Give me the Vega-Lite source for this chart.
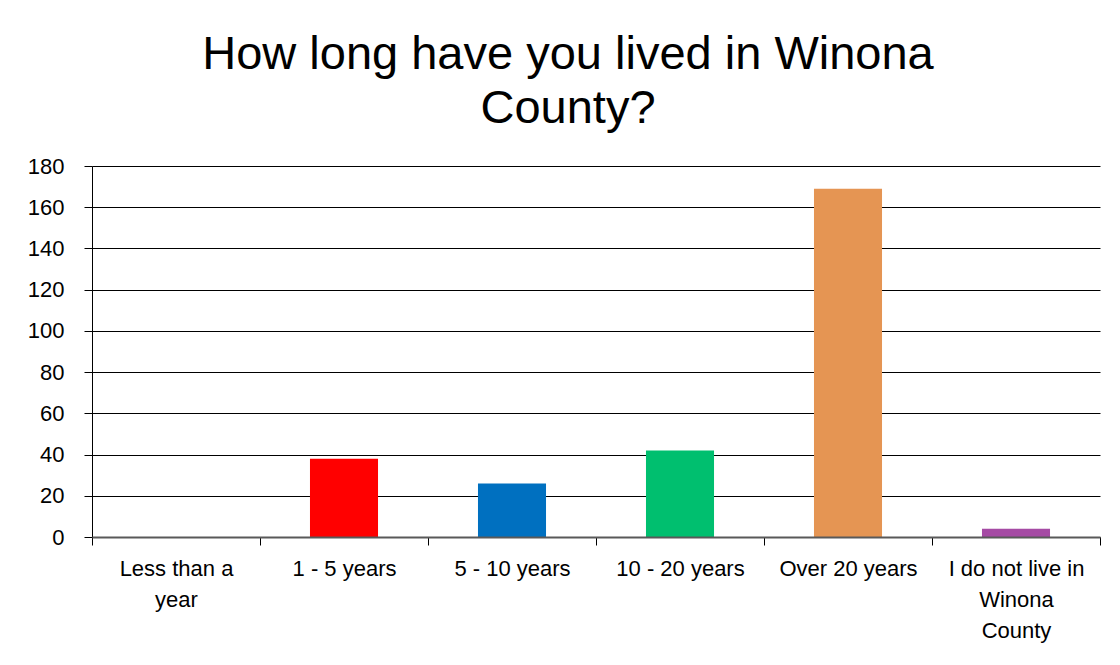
{
  "$schema": "https://vega.github.io/schema/vega-lite/v6.json",
  "autosize": {"type": "none"},
  "width": 1008,
  "height": 371,
  "padding": {"top": 166, "left": 92, "right": 20, "bottom": 128},
  "background": "white",
  "title": {
    "text": ["How long have you lived in Winona", "County?"],
    "font": "Liberation Sans",
    "fontSize": 47,
    "fontWeight": "normal",
    "color": "#000000",
    "lineHeight": 54,
    "anchor": "middle",
    "dx": -28,
    "offset": 22
  },
  "data": {
    "values": [
      {"category": "Less than a year", "count": 0},
      {"category": "1 - 5 years", "count": 38},
      {"category": "5 - 10 years", "count": 26},
      {"category": "10 - 20 years", "count": 42},
      {"category": "Over 20 years", "count": 169},
      {"category": "I do not live in Winona County", "count": 4}
    ]
  },
  "mark": {"type": "bar", "width": {"band": 0.405}},
  "encoding": {
    "x": {
      "field": "category",
      "type": "nominal",
      "sort": null,
      "scale": {"paddingInner": 0, "paddingOuter": 0},
      "axis": {
        "title": null,
        "labelAngle": 0,
        "labelFont": "Liberation Sans",
        "labelFontSize": 22,
        "labelColor": "#000000",
        "labelLineHeight": 31,
        "labelPadding": 13,
        "labelLimit": 200,
        "labelExpr": "datum.value == 'Less than a year' ? ['Less than a', 'year'] : datum.value == 'I do not live in Winona County' ? ['I do not live in', 'Winona', 'County'] : datum.value",
        "domainColor": "#595959",
        "domainWidth": 2,
        "ticks": true,
        "tickColor": "#000000",
        "tickWidth": 1,
        "tickSize": 8,
        "tickBand": "extent",
        "zindex": 2,
        "grid": false
      }
    },
    "y": {
      "field": "count",
      "type": "quantitative",
      "scale": {"domain": [0, 180], "nice": false},
      "axis": {
        "title": null,
        "values": [0, 20, 40, 60, 80, 100, 120, 140, 160, 180],
        "labelFont": "Liberation Sans",
        "labelFontSize": 22,
        "labelColor": "#000000",
        "labelPadding": 20,
        "domainColor": "#000000",
        "domainWidth": 1,
        "tickColor": "#000000",
        "tickSize": 8,
        "tickWidth": 1,
        "grid": true,
        "gridColor": "#000000",
        "gridWidth": 1,
        "gridOpacity": 1
      }
    },
    "color": {
      "field": "category",
      "type": "nominal",
      "sort": null,
      "legend": null,
      "scale": {
        "domain": ["Less than a year", "1 - 5 years", "5 - 10 years", "10 - 20 years", "Over 20 years", "I do not live in Winona County"],
        "range": ["#4472C4", "#FF0000", "#0070C0", "#00BF6F", "#E59553", "#A54AA4"]
      }
    }
  },
  "config": {
    "view": {"stroke": null},
    "axisX": {"ticks": true},
    "axisBand": {"ticks": true}
  }
}
